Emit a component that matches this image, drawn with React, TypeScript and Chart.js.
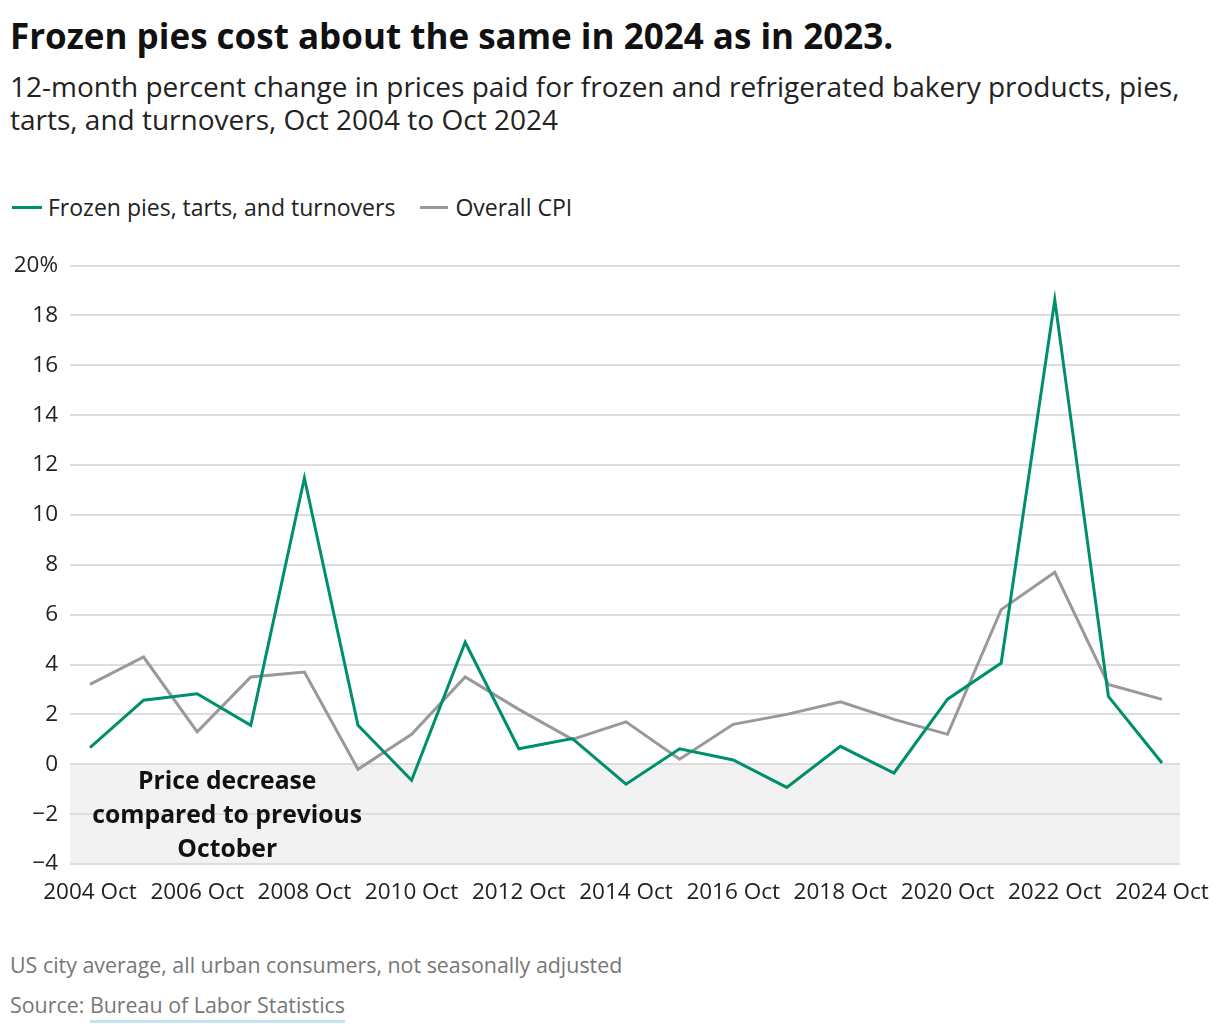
import React, { useEffect, useRef } from "react";
import { Chart, registerables } from "chart.js";

Chart.register(...registerables);

const years = [2004, 2005, 2006, 2007, 2008, 2009, 2010, 2011, 2012, 2013, 2014, 2015, 2016, 2017, 2018, 2019, 2020, 2021, 2022, 2023, 2024];
const frozenPies = [0.67, 2.57, 2.83, 1.56, 11.48, 1.56, -0.64, 4.89, 0.62, 1.03, -0.8, 0.62, 0.17, -0.93, 0.72, -0.35, 2.61, 4.06, 18.62, 2.72, 0.05];
const overallCpi = [3.2, 4.3, 1.3, 3.5, 3.7, -0.2, 1.2, 3.5, 2.2, 1.0, 1.7, 0.2, 1.6, 2.0, 2.5, 1.8, 1.2, 6.2, 7.7, 3.2, 2.6];
const xTickYears = [2004, 2006, 2008, 2010, 2012, 2014, 2016, 2018, 2020, 2022, 2024];
const yTicks = [-4, -2, 0, 2, 4, 6, 8, 10, 12, 14, 16, 18, 20];
const annotationLines = ["Price decrease", "compared to previous", "October"];

const FONT = "'Open Sans', 'Noto Sans', sans-serif";
const GREEN = "#008f6d";
const GRAY = "#999999";

const bandPlugin = {
  id: "negBand",
  beforeDraw(chart: any) {
    const { ctx, chartArea, scales } = chart;
    const y = scales.y;
    const top = y.getPixelForValue(0);
    const bottom = y.getPixelForValue(-4);
    ctx.save();
    ctx.fillStyle = "#f2f2f2";
    ctx.fillRect(chartArea.left, top, chartArea.right - chartArea.left, bottom - top);
    ctx.restore();
  },
  afterDatasetsDraw(chart: any) {
    const { ctx, scales } = chart;
    const cx = scales.x.getPixelForValue(2006.56);
    const y0 = scales.y.getPixelForValue(0);
    ctx.save();
    ctx.font = `bold 24.7px ${FONT}`;
    ctx.fillStyle = "#111";
    ctx.textAlign = "center";
    ctx.textBaseline = "middle";
    annotationLines.forEach((t, i) => ctx.fillText(t, cx, y0 + 18 + i * 34));
    ctx.restore();
  },
};

export default function App() {
  const ref = useRef<HTMLCanvasElement | null>(null);
  useEffect(() => {
    if (!ref.current) return;
    const chart = new Chart(ref.current, {
      type: "line",
      data: {
        datasets: [
          {
            label: "Frozen pies, tarts, and turnovers",
            data: years.map((x, i) => ({ x, y: frozenPies[i] })),
            borderColor: GREEN,
            backgroundColor: GREEN,
            borderWidth: 3,
            pointRadius: 0,
            tension: 0,
          },
          {
            label: "Overall CPI",
            data: years.map((x, i) => ({ x, y: overallCpi[i] })),
            borderColor: GRAY,
            backgroundColor: GRAY,
            borderWidth: 3,
            pointRadius: 0,
            tension: 0,
          },
        ],
      },
      options: {
        animation: false,
        responsive: false,
        layout: { padding: { top: 24, right: 40, left: 0, bottom: 0 } },
        plugins: { legend: { display: false }, tooltip: { enabled: false } },
        scales: {
          x: {
            type: "linear",
            min: 2003.627,
            max: 2024.336,
            grid: { display: false },
            border: { display: false },
            afterBuildTicks: (s: any) => {
              s.ticks = xTickYears.map((v) => ({ value: v }));
            },
            afterFit: (s: any) => {
              s.height = 66;
            },
            ticks: {
              autoSkip: false,
              maxRotation: 0,
              padding: 7,
              color: "#222",
              font: { family: FONT, size: 22.5 },
              callback: (v: any) => `${v} Oct`,
            },
          },
          y: {
            min: -4,
            max: 20,
            afterBuildTicks: (s: any) => {
              s.ticks = yTicks.map((v) => ({ value: v }));
            },
            afterFit: (s: any) => {
              s.width = 70;
            },
            grid: { color: "#dddddd", lineWidth: 2, drawTicks: false },
            border: { display: false },
            ticks: {
              padding: 12,
              color: "#222",
              font: { family: FONT, size: 22.5 },
              callback: (v: any) => (v === 20 ? "20%" : v < 0 ? "\u2212" + Math.abs(v) : String(v)),
            },
          },
        },
      },
      plugins: [bandPlugin],
    } as any);
    return () => chart.destroy();
  }, []);

  const abs = (top: number, left: number, extra: React.CSSProperties = {}): React.CSSProperties => ({
    position: "absolute",
    top,
    left,
    whiteSpace: "nowrap",
    fontFamily: FONT,
    ...extra,
  });

  return (
    <div style={{ position: "absolute", left: 0, top: 0, width: 1220, height: 1030, background: "#fff", overflow: "hidden" }}>
      <div style={abs(16, 10, { fontSize: 35, fontWeight: 700, lineHeight: "40px", color: "#111" })}>
        Frozen pies cost about the same in 2024 as in 2023.
      </div>
      <div style={abs(70, 10, { fontSize: 28, lineHeight: "33px", color: "#222" })}>
        12-month percent change in prices paid for frozen and refrigerated bakery products, pies,
        <br />
        tarts, and turnovers, Oct 2004 to Oct 2024
      </div>
      <div style={abs(193, 12, { fontSize: 23, lineHeight: "28px", color: "#222", display: "flex", alignItems: "center" })}>
        <span style={{ display: "inline-block", width: 30, height: 3, background: GREEN, marginRight: 6 }} />
        <span>Frozen pies, tarts, and turnovers</span>
        <span style={{ display: "inline-block", width: 28, height: 3, background: GRAY, marginLeft: 25, marginRight: 7 }} />
        <span>Overall CPI</span>
      </div>
      <canvas ref={ref} width={1220} height={690} style={{ position: "absolute", left: 0, top: 240, width: 1220, height: 690 }} />
      <div style={abs(951, 10, { fontSize: 21.4, lineHeight: "28px", color: "#777" })}>
        US city average, all urban consumers, not seasonally adjusted
      </div>
      <div style={abs(991, 10, { fontSize: 21.4, lineHeight: "28px", color: "#777" })}>
        Source:{" "}
        <span style={{ borderBottom: "3px solid #c4e3f0", paddingBottom: 1 }}>Bureau of Labor Statistics</span>
      </div>
    </div>
  );
}
